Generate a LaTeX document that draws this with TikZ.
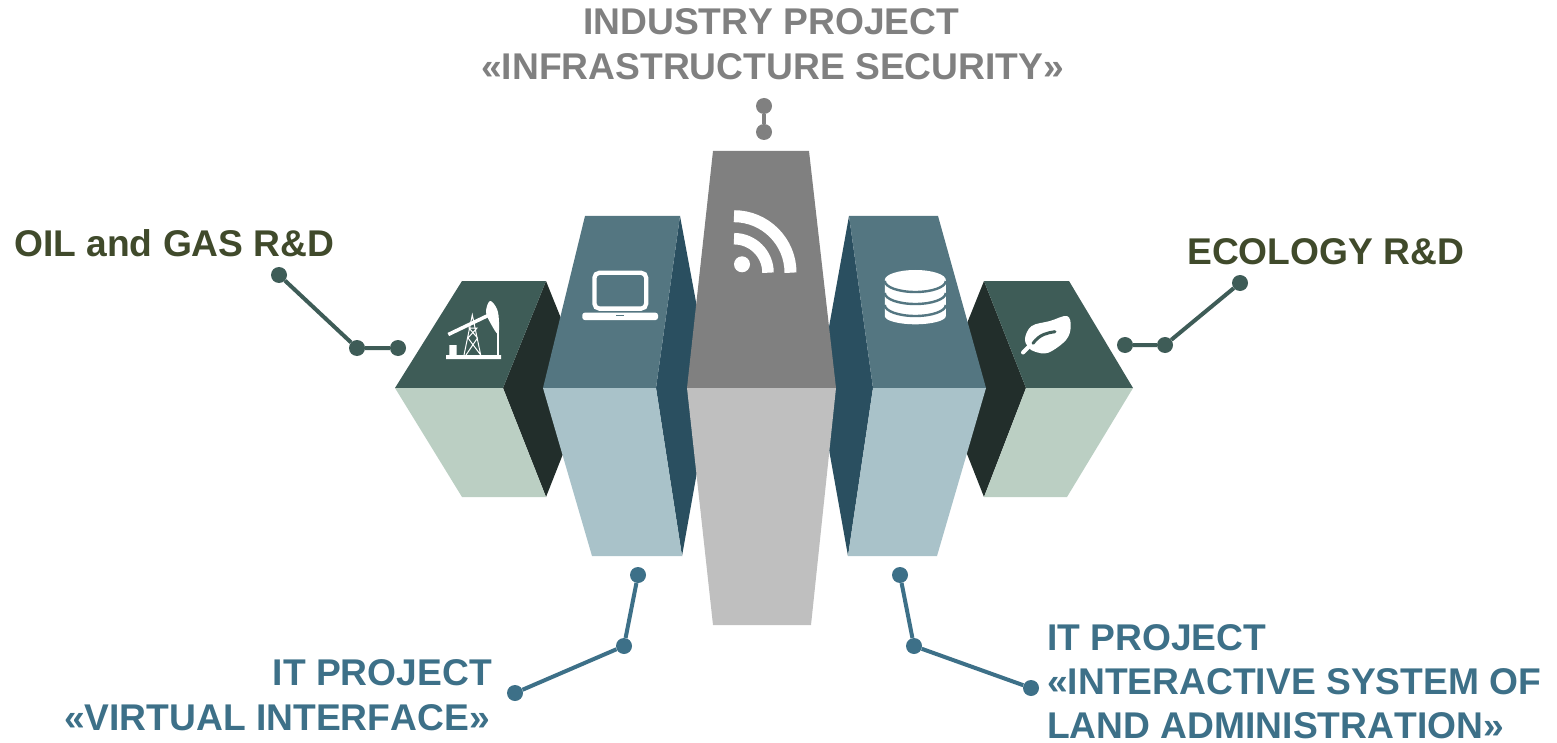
\documentclass[tikz,border=0pt]{standalone}
\usepackage{fontspec}
\setmainfont[Kerning=Off]{Liberation Sans}
\definecolor{grntop}{HTML}{3E5C57}
\definecolor{grnside}{HTML}{222E2B}
\definecolor{grnfront}{HTML}{BBCFC3}
\definecolor{blutop}{HTML}{547681}
\definecolor{bluside}{HTML}{2A4F60}
\definecolor{blufront}{HTML}{A9C2C9}
\definecolor{grytop}{HTML}{808080}
\definecolor{gryfront}{HTML}{BFBFBF}
\definecolor{grntext}{HTML}{404A2B}
\definecolor{blutext}{HTML}{3D7088}
\tikzset{
  dotmark/.style={fill=#1,circle,inner sep=0pt,minimum size=16pt},
  dotline/.style={draw=#1,line width=4pt},
  caption/.style={inner sep=0pt,text=#1,font=\fontsize{37.2}{37.2}\selectfont\bfseries},
}
\begin{document}
\begin{tikzpicture}[x=1pt,y=-1pt]
\useasboundingbox (0,0) rectangle (1557,743);
\fill[grnside] (546,281) -- (503,388) -- (546,497) -- (589,388) -- cycle;
\fill[grnside] (984,281) -- (1026,388) -- (984,497) -- (941,388) -- cycle;
\fill[bluside] (680,216) -- (656,388) -- (682,556) -- (712,388) -- cycle;
\fill[bluside] (849,216) -- (873,388) -- (848,556) -- (818,388) -- cycle;
\fill[grntop] (395,388) -- (462,281) -- (546,281) -- (503,388) -- cycle;
\fill[grnfront] (395,388) -- (503,388) -- (546,497) -- (462,497) -- cycle;
\fill[grntop] (1026,388) -- (984,281) -- (1069,281) -- (1133,388) -- cycle;
\fill[grnfront] (1026,388) -- (1133,388) -- (1067,497) -- (984,497) -- cycle;
\fill[blutop] (543,388) -- (585,216) -- (680,216) -- (656,388) -- cycle;
\fill[blufront] (543,388) -- (656,388) -- (682,556) -- (592,556) -- cycle;
\fill[blutop] (873,388) -- (849,216) -- (938,216) -- (986,388) -- cycle;
\fill[blufront] (873,388) -- (986,388) -- (937,556) -- (848,556) -- cycle;
\fill[grytop] (687,388) -- (713,151) -- (809,151) -- (836,388) -- cycle;
\fill[gryfront] (687,388) -- (836,388) -- (811,625) -- (713,625) -- cycle;

\fill[white] (446,355) rectangle (501,359) (449.3,345) rectangle (456.7,355);
\draw[white,line width=3.5pt] (448.3,334.5) -- (488,315.5);
\fill[white] plot[smooth cycle,tension=.6] coordinates {(486,312) (490,301) (497,309) (499,322) (498,334) (491,324)};
\draw[white,line width=1.5pt] (498,330) -- (498,355);
\draw[white,line width=1pt] (464,355) -- (472.3,315) -- (480.7,355) -- (468,338) -- (477,328) -- (469,328) -- (477.5,338) -- (466,355);

\draw[white,line width=4.3pt,rounded corners=5pt] (594.4,272.8) rectangle (646.2,308.6);
\fill[white,rounded corners=2.5pt] (582.3,312.7) -- (658,312.7) -- (658,320) -- (582.3,320) -- cycle;
\fill[blutop] (616,315.3) rectangle (624,316.3);

\fill[white] (742,264.3) circle[radius=8];
\draw[white,line width=11.5pt] (734,238.7) arc[start angle=-90,end angle=0,radius=34];
\draw[white,line width=12pt] (734,216.2) arc[start angle=-90,end angle=0,radius=56.5];

\fill[white] (884.8,280) arc[start angle=180,end angle=360,x radius=30.5,y radius=10] -- (945.8,316) arc[start angle=0,end angle=180,x radius=30.5,y radius=8.3] -- cycle;
\foreach \gy in {281,293,305}
  \draw[blutop,line width=2.4pt] (884.8,\gy) arc[start angle=180,end angle=0,x radius=30.5,y radius=11];

\fill[white] plot[smooth cycle,tension=.6] coordinates {(1028.3,347.3) (1025,338.3) (1031.7,326) (1050,321) (1067,316) (1070.7,326.7) (1066,340) (1048.3,352.7) (1035,351.7)};
\draw[white,line width=4pt,line cap=round] (1029,346.5) -- (1023,352.5);
\draw[grntop,line width=3pt,line cap=round] (1033,343.3) .. controls (1040,334) and (1047,333) .. (1055,331.7);

\node[dotmark=grytop] (t1) at (764,106) {};
\node[dotmark=grytop] (t2) at (764,132) {};
\node[dotmark=grntop] (l1) at (279,275) {};
\node[dotmark=grntop] (l2) at (357,348) {};
\node[dotmark=grntop] (l3) at (398,348) {};
\node[dotmark=grntop] (r1) at (1240,283) {};
\node[dotmark=grntop] (r2) at (1165,345) {};
\node[dotmark=grntop] (r3) at (1125,345) {};
\node[dotmark=blutext] (v1) at (638,575) {};
\node[dotmark=blutext] (v2) at (624,646) {};
\node[dotmark=blutext] (v3) at (515,693) {};
\node[dotmark=blutext] (i1) at (900,575) {};
\node[dotmark=blutext] (i2) at (914,646) {};
\node[dotmark=blutext] (i3) at (1031,688) {};
\draw[dotline=grytop] (t1) -- (t2);
\draw[dotline=grntop] (l1) -- (l2) -- (l3);
\draw[dotline=grntop] (r1) -- (r2) -- (r3);
\draw[dotline=blutext] (v1) -- (v2) -- (v3);
\draw[dotline=blutext] (i1) -- (i2) -- (i3);

\node[caption=grytop,anchor=base west] (ind1) at (583,35) {INDUSTRY PROJECT};
\node[caption=grytop,anchor=base west] (ind2) at (481,80) {«INFRASTRUCTURE SECURITY»};
\node[caption=grntext,anchor=base west] (oil) at (14,257) {OIL and GAS R\&D};
\node[caption=grntext,anchor=base west] (eco) at (1187,265) {ECOLOGY R\&D};
\node[caption=blutext,anchor=base east] (vir1) at (492,685) {IT PROJECT};
\node[caption=blutext,anchor=base east] (vir2) at (490,730) {«VIRTUAL INTERFACE»};
\node[caption=blutext,anchor=base west] (lnd1) at (1047,650) {IT PROJECT};
\node[caption=blutext,anchor=base west] (lnd2) at (1047,694) {«INTERACTIVE SYSTEM OF};
\node[caption=blutext,anchor=base west] (lnd3) at (1047,738) {LAND ADMINISTRATION»};
\end{tikzpicture}
\end{document}
